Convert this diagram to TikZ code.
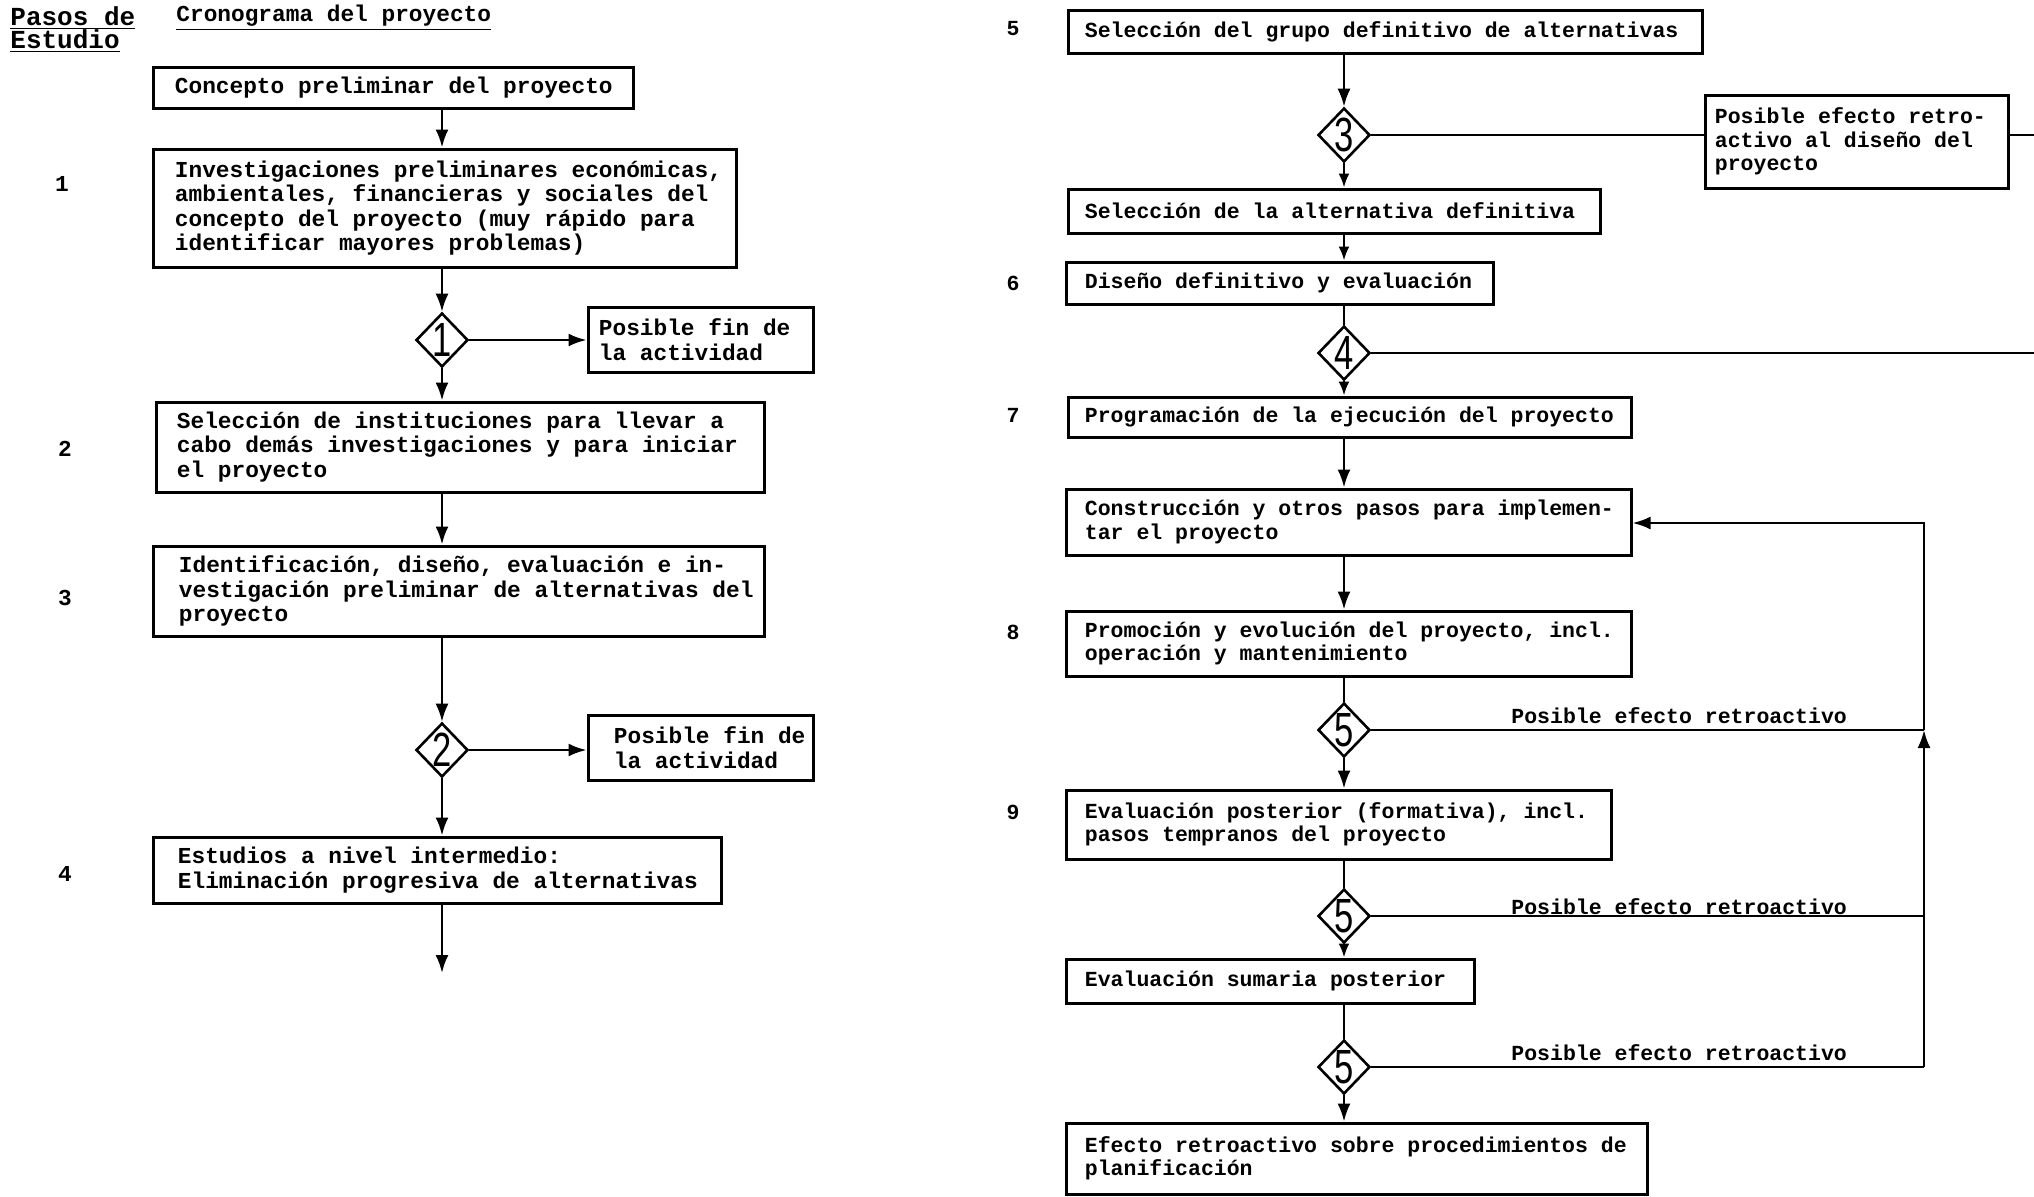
\documentclass[tikz,border=0pt]{standalone}
\usepackage{fontspec}
\usepackage{graphicx}
\usetikzlibrary{shapes.geometric,arrows.meta,fit}
\newfontfamily\monofam{Liberation Mono}
\newfontfamily\digitfam{Liberation Sans}

\tikzset{
  box/.style={draw, line width=1.5pt, inner sep=0pt},
  htxt/.style={font=\monofam\bfseries\fontsize{13}{13}\selectfont, align=left, inner sep=0pt},
  ltxt/.style={font=\monofam\bfseries\fontsize{11.4}{12.3}\selectfont, align=left, inner sep=0pt},
  rtxt/.style={font=\monofam\bfseries\fontsize{10.75}{11.7}\selectfont, align=left, inner sep=0pt},
  dia/.style={draw, diamond, line width=1.3pt, minimum width=26pt, minimum height=27pt, inner sep=0pt},
  digit/.style={font=\digitfam\fontsize{24}{24}\selectfont, inner sep=0pt},
  conn/.style={line width=1.2pt},
  arr/.style={conn, -{Latex[length=9pt,width=6.5pt]}},
  arrs/.style={conn, -{Latex[length=7pt,width=5.5pt]}},
}
% digit inside a decision diamond
\newcommand\dig[1]{\scalebox{0.72}[1]{#1}}
% box drawn between two corners, with its text set at a left indent
\newcommand\flowbox[8]{%
  \node[box, fit={(#2,#3) (#4,#5)}] (#1) {};
  \node[#7, anchor=west] (#1t) at ([xshift=#6*0.5pt]#1.west) {#8};}

\begin{document}
\begin{tikzpicture}[x=0.5pt, y=-0.5pt]
\useasboundingbox (0,0) rectangle (2034,1196);

% ---------- headings ----------
\node[htxt, anchor=west] (h1) at (10,18) {\underline{Pasos de}};
\node[htxt, anchor=west] (h2) at (10,41) {\underline{Estudio}};
\node[ltxt, anchor=west] (h3) at (176,18) {\underline{Cronograma del proyecto}};

% ---------- left column ----------
\flowbox{A0}{153}{67}{633}{108}{23}{ltxt}{Concepto preliminar del proyecto}
\flowbox{A1}{153}{149}{736}{267}{23}{ltxt}{Investigaciones preliminares económicas,\\ambientales, financieras y sociales del\\concepto del proyecto (muy rápido para\\identificar mayores problemas)}
\flowbox{F1}{588}{307}{813}{372}{12}{ltxt}{Posible fin de\\la actividad}
\flowbox{A2}{156}{402}{764}{492}{22}{ltxt}{Selección de instituciones para llevar a\\cabo demás investigaciones y para iniciar\\el proyecto}
\flowbox{A3}{153}{546}{764}{636}{27}{ltxt}{Identificación, diseño, evaluación e in-\\vestigación preliminar de alternativas del\\proyecto}
\flowbox{F2}{588}{715}{813}{780}{27}{ltxt}{Posible fin de\\la actividad}
\flowbox{A4}{153}{837}{721}{903}{26}{ltxt}{Estudios a nivel intermedio:\\Eliminación progresiva de alternativas}

\node[dia, label={[digit]center:\dig{1}}] (D1) at (442,340) {};
\node[dia, label={[digit]center:\dig{2}}] (D2) at (442,750) {};
\coordinate (endL) at (442,973);

\node[ltxt] (n1) at (62,184) {1};
\node[ltxt] (n2) at (65,449) {2};
\node[ltxt] (n3) at (65,598) {3};
\node[ltxt] (n4) at (65,874) {4};

\draw[arr] (A0.south -| D1) -- (A1.north -| D1);
\draw[arr] (A1.south -| D1) -- (D1.north);
\draw[arr] (D1.east) -- (F1.west |- D1);
\draw[arr] (D1.south) -- (A2.north -| D1);
\draw[arr] (A2.south -| D1) -- (A3.north -| D1);
\draw[arr] (A3.south -| D2) -- (D2.north);
\draw[arr] (D2.east) -- (F2.west |- D2);
\draw[arr] (D2.south) -- (A4.north -| D2);
\draw[arr] (A4.south -| D2) -- (endL);

% ---------- right column ----------
\flowbox{B5}{1068}{10}{1702}{53}{18}{rtxt}{Selección del grupo definitivo de alternativas}
\flowbox{P}{1705}{95}{2008}{188}{11}{rtxt}{Posible efecto retro-\\activo al diseño del\\proyecto}
\flowbox{B5b}{1068}{189}{1600}{233}{18}{rtxt}{Selección de la alternativa definitiva}
\flowbox{B6}{1066}{262}{1493}{304}{20}{rtxt}{Diseño definitivo y evaluación}
\flowbox{B7}{1068}{397}{1631}{437}{18}{rtxt}{Programación de la ejecución del proyecto}
\flowbox{BC}{1066}{489}{1631}{555}{20}{rtxt}{Construcción y otros pasos para implemen-\\tar el proyecto}
\flowbox{B8}{1066}{611}{1631}{676}{20}{rtxt}{Promoción y evolución del proyecto, incl.\\operación y mantenimiento}
\flowbox{B9}{1066}{790}{1611}{859}{20}{rtxt}{Evaluación posterior (formativa), incl.\\pasos tempranos del proyecto}
\flowbox{BS}{1066}{959}{1474}{1003}{20}{rtxt}{Evaluación sumaria posterior}
\flowbox{BF}{1066}{1123}{1647}{1194}{20}{rtxt}{Efecto retroactivo sobre procedimientos de\\planificación}

\node[dia, label={[digit]center:\dig{3}}] (D3) at (1344,135) {};
\node[dia, label={[digit]center:\dig{4}}] (D4) at (1344,353) {};
\node[dia, label={[digit]center:\dig{5}}] (D5a) at (1344,730) {};
\node[dia, label={[digit]center:\dig{5}}] (D5b) at (1344,916) {};
\node[dia, label={[digit]center:\dig{5}}] (D5c) at (1344,1067) {};

\node[rtxt] (n5) at (1013,29) {5};
\node[rtxt] (n6) at (1013,283) {6};
\node[rtxt] (n7) at (1013,415) {7};
\node[rtxt] (n8) at (1013,632) {8};
\node[rtxt] (n9) at (1013,812) {9};

\coordinate (offP) at (2034,135);
\coordinate (offD4) at (2034,353);
\coordinate (fbTop) at (1924,523);
\coordinate (fbA) at (1924,730);
\coordinate (fbB) at (1924,916);
\coordinate (fbC) at (1924,1067);

\draw[arr] (B5.south -| D3) -- (D3.north);
\draw[arrs] (D3.south) -- (B5b.north -| D3);
\draw[conn] (D3.east) -- (P.west |- D3);
\draw[conn] (P.east |- D3) -- (offP);
\draw[arrs] (B5b.south -| D3) -- (B6.north -| D3);
\draw[conn] (B6.south -| D4) -- (D4.north);
\draw[conn] (D4.east) -- (offD4);
\draw[arrs] (D4.south) -- (B7.north -| D4);
\draw[arr] (B7.south -| D4) -- (BC.north -| D4);
\draw[arr] (BC.south -| D4) -- (B8.north -| D4);
\draw[conn] (B8.south -| D5a) -- (D5a.north);
\draw[arr] (D5a.south) -- (B9.north -| D5a);
\draw[conn] (B9.south -| D5b) -- (D5b.north);
\draw[arrs] (D5b.south) -- (BS.north -| D5b);
\draw[conn] (BS.south -| D5c) -- (D5c.north);
\draw[arr] (D5c.south) -- (BF.north -| D5c);

% feedback loop back to construction
\draw[conn] (D5a.east) -- (fbA);
\draw[conn] (D5b.east) -- (fbB);
\draw[conn] (D5c.east) -- (fbC);
\draw[conn] (fbC) -- (fbB);
\draw[arr] (fbB) -- (fbA);
\draw[arr] (fbA) -- (fbTop) -- (BC.east |- fbTop);

\node[rtxt, anchor=west] (L1) at (1511,716) {Posible efecto retroactivo};
\node[rtxt, anchor=west] (L2) at (1511,907) {Posible efecto retroactivo};
\node[rtxt, anchor=west] (L3) at (1511,1053) {Posible efecto retroactivo};
\end{tikzpicture}
\end{document}
